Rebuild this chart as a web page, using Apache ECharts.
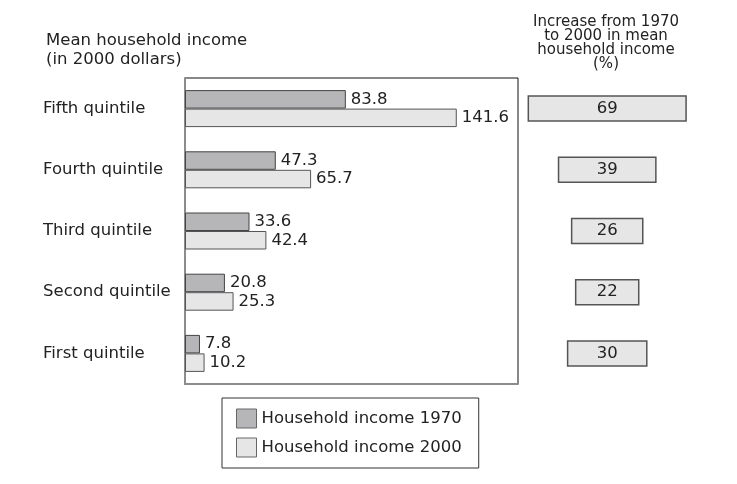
<!DOCTYPE html>
<html>
<head>
<meta charset="utf-8">
<script src="https://cdn.jsdelivr.net/npm/echarts@6/dist/echarts.min.js"></script>
<style>
html,body{margin:0;padding:0;background:#fff;}
#chart{width:737px;height:484px;}
</style>
</head>
<body>
<div id="chart"></div>
<script>
const categories = ['Fifth quintile', 'Fourth quintile', 'Third quintile', 'Second quintile', 'First quintile'];
const income1970 = [83.8, 47.3, 33.6, 20.8, 7.8];
const income2000 = [141.6, 65.7, 42.4, 25.3, 10.2];
const increasePct = [69, 39, 26, 22, 30];
const seriesNames = ['Household income 1970', 'Household income 2000'];

const FONT = 'DejaVu Sans';
const TXT = '#222';
const PAD = 9.3; // box padding in axis units for right-hand boxes

const chart = echarts.init(document.getElementById('chart'), null, {renderer: 'canvas'});

const option = {
  backgroundColor: '#fff',
  animation: false,
  textStyle: {fontFamily: FONT},
  title: [
    {
      text: 'Mean household income\n(in 2000 dollars)',
      left: 46, top: 31, padding: 0,
      textStyle: {fontFamily: FONT, fontSize: 16.5, fontWeight: 'normal', color: TXT, lineHeight: 19}
    },
    {
      text: 'Increase from 1970\nto 2000 in mean\nhousehold income\n(%)',
      left: 606, top: 15, padding: 0, textAlign: 'center',
      textStyle: {fontFamily: FONT, fontSize: 15, fontWeight: 'normal', color: TXT, lineHeight: 14, align: 'center'}
    }
  ],
  legend: {
    orient: 'vertical',
    left: 222, top: 398,
    padding: [10.5, 17, 10.5, 14],
    borderColor: '#333', borderWidth: 1,
    itemWidth: 20, itemHeight: 19, itemGap: 9,
    icon: 'rect',
    itemStyle: {borderWidth: 1, borderColor: '#666'},
    data: seriesNames,
    textStyle: {fontFamily: FONT, fontSize: 16.5, color: TXT, lineHeight: 19}
  },
  grid: [
    {left: 185, top: 78, width: 333, height: 306, show: true, borderColor: '#111', borderWidth: 1, containLabel: false},
    {left: 526.6, top: 78, width: 161.2, height: 306, show: false, containLabel: false}
  ],
  xAxis: [
    {gridIndex: 0, type: 'value', min: 0, max: 173.5,
      axisLine: {show: true, lineStyle: {color: '#8c8c8c', width: 2}},
      axisTick: {show: false}, axisLabel: {show: false}, splitLine: {show: false}},
    {gridIndex: 1, type: 'value', min: -40, max: 40, show: false, splitLine: {show: false}}
  ],
  yAxis: [
    {gridIndex: 0, type: 'category', inverse: true, data: categories,
      axisLine: {show: true, lineStyle: {color: '#8c8c8c', width: 2}},
      axisTick: {show: false},
      axisLabel: {align: 'left', margin: 142, fontFamily: FONT, fontSize: 16.5, color: TXT}},
    {gridIndex: 1, type: 'category', inverse: true, data: categories, show: false}
  ],
  series: [
    {
      name: seriesNames[0], type: 'bar', xAxisIndex: 0, yAxisIndex: 0,
      data: income1970, barWidth: 18.5, barGap: '0%',
      itemStyle: {color: '#b6b6b9', borderColor: '#444', borderWidth: 1},
      label: {show: true, position: 'right', distance: 5, fontFamily: FONT, fontSize: 16.5, color: TXT}
    },
    {
      name: seriesNames[1], type: 'bar', xAxisIndex: 0, yAxisIndex: 0,
      data: income2000, barWidth: 18.5, barGap: '0%',
      itemStyle: {color: '#e6e6e6', borderColor: '#555', borderWidth: 1},
      label: {show: true, position: 'right', distance: 5, fontFamily: FONT, fontSize: 16.5, color: TXT}
    },
    {
      type: 'custom', xAxisIndex: 1, yAxisIndex: 1,
      data: increasePct.map((v, i) => [v, i]),
      encode: {x: 0, y: 1},
      renderItem: function (params, api) {
        const v = api.value(0);
        const idx = api.value(1);
        const half = (v + PAD) / 2;
        const p0 = api.coord([-half, idx]);
        const p1 = api.coord([half, idx]);
        const h = 25;
        return {
          type: 'group',
          children: [
            {type: 'rect', shape: {x: p0[0], y: p0[1] - h / 2, width: p1[0] - p0[0], height: h},
              style: {fill: '#e6e6e6', stroke: '#555', lineWidth: 1.5}},
            {type: 'text', style: {text: String(v), x: (p0[0] + p1[0]) / 2, y: p0[1],
              align: 'center', verticalAlign: 'middle', fontFamily: FONT, fontSize: 16.5, fill: TXT}}
          ]
        };
      }
    }
  ]
};
chart.setOption(option);
</script>
</body>
</html>
